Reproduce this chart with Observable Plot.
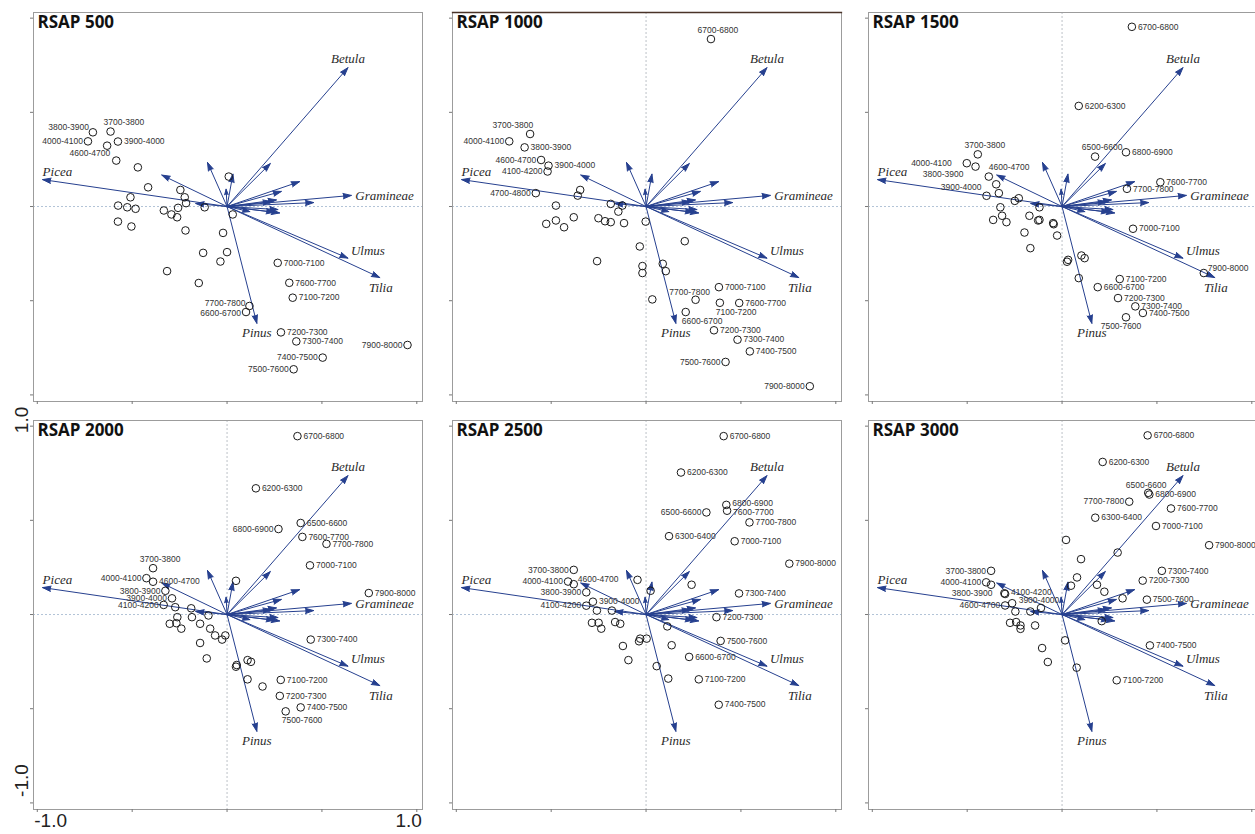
<!DOCTYPE html>
<html>
<head>
<meta charset="utf-8">
<script src="https://cdn.jsdelivr.net/npm/d3@7"></script>
<script src="https://cdn.jsdelivr.net/npm/@observablehq/plot@0.6"></script>
<style>
  html, body { margin: 0; padding: 0; background: #fff; overflow: hidden; }
  #chart { position: relative; width: 1255px; height: 834px; overflow: hidden; background: #fff; }
</style>
</head>
<body>
<div id="chart"></div>
<script>
// ---- Panel titles ----
const titles = ["RSAP 500", "RSAP 1000", "RSAP 1500", "RSAP 2000", "RSAP 2500", "RSAP 3000"];

// ---- Taxon vectors (same in every panel) ----
const species  = ["Betula", "Picea", "Gramineae", "Ulmus", "Tilia", "Pinus"];
const speciesX = [0.637, -0.972, 0.655, 0.637, 0.805, 0.157];
const speciesY = [0.737, 0.143, 0.059, -0.274, -0.377, -0.620];
const minorX = [-0.344, -0.103, -0.165, -0.005, 0.031, 0.228, 0.382, 0.286, 0.260, 0.233, 0.456, 0.268, 0.277, 0.250, 0.120];
const minorY = [0.167, 0.234, 0.016, 0.092, 0.172, 0.228, 0.132, 0.080, 0.035, 0.026, 0.021, -0.016, -0.034, -0.030, -0.027];

// ---- Sample scores: RSAP 500 ----
const s500Names = ["3800-3900", "3700-3800", "4000-4100", "3900-4000", "4600-4700", "7000-7100", "7600-7700", "7100-7200", "7700-7800", "6600-6700", "7200-7300", "7300-7400", "7900-8000", "7400-7500", "7500-7600"];
const s500X = [-0.707, -0.614, -0.733, -0.575, -0.632, 0.267, 0.328, 0.346, 0.118, 0.100, 0.284, 0.365, 0.951, 0.504, 0.351];
const s500Y = [0.394, 0.398, 0.346, 0.345, 0.323, -0.299, -0.405, -0.484, -0.528, -0.560, -0.668, -0.716, -0.735, -0.802, -0.864];
const s500Other = [[-0.584,0.244],[-0.47,0.208],[-0.416,0.102],[-0.509,0.049],[-0.574,0.005],[-0.526,-0.004],[-0.482,-0.012],[-0.575,-0.08],[-0.504,-0.106],[-0.246,0.088],[-0.223,0.049],[-0.216,0.018],[-0.258,-0.007],[-0.333,-0.021],[-0.293,-0.042],[-0.263,-0.057],[-0.118,-0.004],[0.009,0.159],[0.03,-0.042],[-0.219,-0.127],[-0.021,-0.14],[-0.126,-0.246],[0,-0.242],[-0.035,-0.292],[-0.316,-0.343],[-0.149,-0.406]];

// ---- RSAP 1000 ----
const s1000Names = ["6700-6800", "3700-3800", "4000-4100", "3800-3900", "4600-4700", "3900-4000", "4100-4200", "4700-4800", "7000-7100", "7700-7800", "7600-7700", "7100-7200", "6600-6700", "7200-7300", "7300-7400", "7400-7500", "7500-7600", "7900-8000"];
const s1000X = [0.342, -0.611, -0.721, -0.640, -0.553, -0.514, -0.519, -0.581, 0.384, 0.261, 0.491, 0.389, 0.209, 0.358, 0.482, 0.547, 0.419, 0.863];
const s1000Y = [0.889, 0.385, 0.346, 0.314, 0.247, 0.217, 0.186, 0.071, -0.428, -0.495, -0.512, -0.511, -0.560, -0.657, -0.707, -0.769, -0.825, -0.954];
const s1000Other = [[-0.347,0.088],[-0.36,0.058],[-0.475,0.005],[-0.186,0.014],[-0.125,0.005],[-0.146,-0.027],[-0.526,-0.092],[-0.475,-0.074],[-0.432,-0.11],[-0.381,-0.057],[-0.251,-0.062],[-0.216,-0.078],[-0.186,-0.083],[-0.116,-0.088],[-0.002,-0.08],[0.204,-0.184],[-0.033,-0.212],[-0.258,-0.29],[-0.019,-0.316],[-0.019,-0.353],[0.088,-0.304],[0.104,-0.343],[0.033,-0.493]];

// ---- RSAP 1500 ----
const s1500Names = ["6700-6800", "6200-6300", "3700-3800", "6500-6600", "6800-6900", "4000-4100", "3800-3900", "4600-4700", "3900-4000", "7600-7700", "7700-7800", "7000-7100", "7900-8000", "7100-7200", "6600-6700", "7200-7300", "7300-7400", "7400-7500", "7500-7600"];
const s1500X = [0.368, 0.088, -0.444, 0.174, 0.337, -0.502, -0.456, -0.386, -0.398, 0.518, 0.342, 0.374, 0.747, 0.304, 0.188, 0.295, 0.386, 0.426, 0.337];
const s1500Y = [0.954, 0.534, 0.277, 0.265, 0.288, 0.230, 0.212, 0.159, 0.057, 0.129, 0.094, -0.118, -0.353, -0.385, -0.428, -0.486, -0.530, -0.565, -0.588];
const s1500Other = [[-0.347,0.118],[-0.333,0.071],[-0.228,0.044],[-0.249,0.03],[-0.325,-0.004],[-0.119,-0.004],[-0.363,-0.071],[-0.316,-0.049],[-0.293,-0.083],[-0.172,-0.049],[-0.119,-0.071],[-0.126,-0.074],[-0.047,-0.088],[-0.044,-0.094],[-0.198,-0.138],[-0.026,-0.154],[-0.167,-0.221],[0.032,-0.283],[0.026,-0.293],[0.102,-0.26],[0.119,-0.274],[0.088,-0.38]];

// ---- RSAP 2000 ----
const s2000Names = ["6700-6800", "6200-6300", "6500-6600", "6800-6900", "7600-7700", "7700-7800", "7000-7100", "3700-3800", "4000-4100", "4600-4700", "3800-3900", "3900-4000", "4100-4200", "7900-8000", "7300-7400", "7100-7200", "7200-7300", "7400-7500", "7500-7600"];
const s2000X = [0.371, 0.152, 0.388, 0.271, 0.397, 0.524, 0.437, -0.390, -0.425, -0.390, -0.325, -0.290, -0.334, 0.747, 0.441, 0.283, 0.278, 0.388, 0.309];
const s2000Y = [0.947, 0.670, 0.486, 0.454, 0.412, 0.375, 0.261, 0.246, 0.193, 0.174, 0.126, 0.086, 0.051, 0.114, -0.133, -0.347, -0.432, -0.493, -0.514];
const s2000Other = [[-0.273,0.039],[-0.189,0.033],[-0.098,-0.005],[-0.262,-0.014],[-0.185,-0.014],[-0.267,-0.046],[-0.302,-0.049],[-0.241,-0.075],[-0.142,-0.049],[-0.089,-0.075],[-0.063,-0.111],[-0.026,-0.133],[-0.009,-0.111],[-0.142,-0.151],[-0.107,-0.233],[0.047,0.179],[0.051,-0.268],[0.047,-0.277],[0.108,-0.242],[0.126,-0.251],[0.108,-0.344],[0.187,-0.382]];

// ---- RSAP 2500 ----
const s2500Names = ["6700-6800", "6200-6300", "6800-6900", "7600-7700", "6500-6600", "7700-7800", "6300-6400", "7000-7100", "7900-8000", "3700-3800", "4000-4100", "4600-4700", "3800-3900", "3900-4000", "4100-4200", "7300-7400", "7200-7300", "7500-7600", "6600-6700", "7100-7200", "7400-7500"];
const s2500X = [0.409, 0.184, 0.423, 0.427, 0.318, 0.545, 0.121, 0.467, 0.755, -0.381, -0.411, -0.381, -0.315, -0.280, -0.315, 0.490, 0.371, 0.393, 0.227, 0.278, 0.383];
const s2500Y = [0.947, 0.754, 0.582, 0.551, 0.542, 0.489, 0.416, 0.389, 0.270, 0.237, 0.175, 0.161, 0.118, 0.068, 0.047, 0.112, -0.014, -0.140, -0.225, -0.344, -0.479];
const s2500Other = [[-0.045,0.184],[0.24,0.158],[0.024,0.126],[-0.259,0.021],[-0.18,0.021],[-0.285,-0.044],[-0.25,-0.044],[-0.236,-0.075],[-0.163,-0.04],[-0.136,-0.049],[0.112,-0.063],[-0.031,-0.128],[-0.037,-0.142],[0.003,-0.128],[-0.122,-0.167],[0.135,-0.163],[-0.093,-0.242],[0.056,-0.274],[0.117,-0.34]];

// ---- RSAP 3000 ----
const s3000Names = ["6700-6800", "6200-6300", "6500-6600", "6800-6900", "7700-7800", "7600-7700", "6300-6400", "7000-7100", "7900-8000", "3700-3800", "4000-4100", "3800-3900", "4100-4200", "3900-4000", "4600-4700", "7300-7400", "7200-7300", "7500-7600", "7400-7500", "7100-7200"];
const s3000X = [0.451, 0.214, 0.454, 0.460, 0.354, 0.574, 0.175, 0.495, 0.775, -0.374, -0.400, -0.304, -0.300, -0.111, -0.300, 0.526, 0.425, 0.447, 0.463, 0.288];
const s3000Y = [0.951, 0.810, 0.646, 0.637, 0.599, 0.563, 0.514, 0.470, 0.368, 0.232, 0.171, 0.113, 0.109, 0.035, 0.048, 0.232, 0.180, 0.079, -0.164, -0.349];
const s3000Other = [[0.021,0.396],[0.1,0.294],[0.293,0.329],[0.079,0.197],[0.047,0.153],[0.184,0.158],[0.223,0.121],[0.319,0.086],[-0.374,0.158],[-0.263,0.06],[-0.246,0.016],[-0.167,0.016],[-0.274,-0.044],[-0.242,-0.04],[-0.219,-0.058],[-0.219,-0.076],[-0.142,-0.058],[0.209,-0.035],[0.016,-0.137],[-0.105,-0.178],[-0.075,-0.252],[0.077,-0.282]];

// ---- Axis tick values ----
const tickValues = [-1, -0.5, 0, 0.5, 1];
const tickLabelValues = [-1, 1];

// ---- Layout: where each sample label sits relative to its circle ----
const labelPlacement = {
  r:    ["start", 6, 0],
  rup:  ["start", 6, -2],
  rdn:  ["start", 6, 1.5],
  l:    ["end", -5, 0],
  lup:  ["end", -4, -2.5],
  ldn:  ["end", -5, 1],
  l12:  ["end", -12, 0],
  l15:  ["end", -15, 0],
  lu:   ["end", -4, -5],
  lb:   ["end", 3, 8],
  lb2:  ["end", -12, 8],
  tl:   ["end", 3, -9],
  lt:   ["end", -5, -9],
  ts:   ["start", -7, -9],
  ts2:  ["start", 0, -9],
  tm:   ["middle", -2, -8],
  tmp:  ["middle", 7, -9],
  tmm:  ["middle", -6, -8],
  bs:   ["start", -4, 9],
  bm:   ["middle", -5, 9],
  ru:   ["start", 4, -5]
};
const s500Sides  = ["lu","ts","l","r","lb","r","r","r","lup","ldn","r","r","l","l","l"];
const s1000Sides = ["tmp","tl","l","r","l","r","l","l","r","tmm","r","bs","bs","r","r","r","l","l"];
const s1500Sides = ["r","r","tmp","tmp","r","l15","lb2","ts2","lt","r","r","r","ru","r","r","r","r","r","bm"];
const s2000Sides = ["r","r","r","l","r","r","r","tmp","l","r","l","l","l","r","r","r","r","r","bs"];
const s2500Sides = ["r","r","rup","rdn","l","r","r","r","r","l","l","ru","l","r","l","r","r","r","r","r","r"];
const s3000Sides = ["r","r","tm","r","l","r","r","r","r","l","l","l12","rup","tm","l","r","r","r","r","r"];

// Taxon label placement: [textAnchor, dx, dy]
const speciesPlacement = {
  Betula:    ["middle", 0, -9],
  Picea:     ["start", 0, -8],
  Gramineae: ["start", 4, 0],
  Ulmus:     ["start", 3, -7],
  Tilia:     ["middle", 1, 10],
  Pinus:     ["middle", 0, 10]
};

const FRAME = 389;
const M = {top: 4, right: 4, bottom: 30, left: 40};
const colLeft = [33.3, 452, 868];
const rowTop = [12, 419.6];
const ARROW = "#26408f";
const SANS = "'Liberation Sans', Arial, sans-serif";
const SERIF = "'Liberation Serif', 'Times New Roman', serif";

const panels = [
  {title: titles[0], names: s500Names,  x: s500X,  y: s500Y,  other: s500Other,  sides: s500Sides,  col: 0, row: 0, vline: false},
  {title: titles[1], names: s1000Names, x: s1000X, y: s1000Y, other: s1000Other, sides: s1000Sides, col: 1, row: 0, vline: true, darkTop: true},
  {title: titles[2], names: s1500Names, x: s1500X, y: s1500Y, other: s1500Other, sides: s1500Sides, col: 2, row: 0, vline: true},
  {title: titles[3], names: s2000Names, x: s2000X, y: s2000Y, other: s2000Other, sides: s2000Sides, col: 0, row: 1, vline: true, tickLabels: true},
  {title: titles[4], names: s2500Names, x: s2500X, y: s2500Y, other: s2500Other, sides: s2500Sides, col: 1, row: 1, vline: true},
  {title: titles[5], names: s3000Names, x: s3000X, y: s3000Y, other: s3000Other, sides: s3000Sides, col: 2, row: 1, vline: true}
];

const vectors = species.map((name, i) => ({name, x: speciesX[i], y: speciesY[i]}))
  .concat(minorX.map((x, i) => ({name: "", x, y: minorY[i]})));

function panel(p) {
  const labeled = p.names.map((name, i) => ({name, x: p.x[i], y: p.y[i], side: p.sides[i]}));
  const others = p.other.map(([x, y]) => ({x, y}));
  const sides = Array.from(new Set(labeled.map(d => d.side)));

  const marks = [
    Plot.ruleY([0], {stroke: "#9db4cc", strokeDasharray: "2,2", strokeWidth: 0.8}),
    p.vline ? Plot.ruleX([0], {stroke: "#aab0b8", strokeDasharray: "2,2", strokeWidth: 0.8}) : null,
    Plot.frame({stroke: "#9c9c9c"}),
    p.darkTop ? Plot.frame({anchor: "top", stroke: "#4a3328", strokeWidth: 1.3}) : null,
    Plot.axisX(tickValues, {tickSize: 3, tickFormat: () => "", stroke: "#777", label: null}),
    Plot.axisY(tickValues, {tickSize: 3, tickFormat: () => "", stroke: "#777", label: null}),
    Plot.arrow(vectors, {x1: 0, y1: 0, x2: "x", y2: "y", stroke: ARROW, fill: ARROW, strokeWidth: 1, headLength: 13, headAngle: 36}),
    Plot.dot(labeled.concat(others), {x: "x", y: "y", r: 3.8, stroke: "#1a1a1a", strokeWidth: 1, fill: "none"}),
    ...sides.map(s => {
      const [anchor, dx, dy] = labelPlacement[s];
      return Plot.text(labeled.filter(d => d.side === s), {
        x: "x", y: "y", text: "name", textAnchor: anchor, dx, dy,
        fontSize: 8.5, fontFamily: SANS, fill: "#333"
      });
    }),
    ...vectors.filter(d => d.name).map(d => {
      const [anchor, dx, dy] = speciesPlacement[d.name];
      return Plot.text([d], {
        x: "x", y: "y", text: "name", textAnchor: anchor, dx, dy,
        fontSize: 13, fontFamily: SERIF, fontStyle: "italic", fill: "#2a2a2a"
      });
    }),
    Plot.text([p.title], {
      frameAnchor: "top-left", text: d => d, dx: 4, dy: 3, lineAnchor: "top",
      fontSize: 17, fontWeight: 700, fontFamily: "'Open Sans', sans-serif", fill: "#111"
    })
  ];

  if (p.tickLabels) {
    const fmt = d => d.toFixed(1);
    const tl = {fontSize: 19, fontFamily: "'Liberation Sans Narrow', 'Liberation Sans', Arial, sans-serif", fill: "#222", text: fmt};
    marks.push(
      Plot.text(tickLabelValues.filter(d => d < 0), {...tl, x: d => d, frameAnchor: "bottom", textAnchor: "start", dx: -3, dy: 17}),
      Plot.text(tickLabelValues.filter(d => d > 0), {...tl, x: d => d, frameAnchor: "bottom", textAnchor: "end", dx: 5, dy: 17}),
      Plot.text(tickLabelValues.filter(d => d > 0), {...tl, y: d => d, frameAnchor: "left", rotate: -90, dx: -12, dy: 7}),
      Plot.text(tickLabelValues.filter(d => d < 0), {...tl, y: d => d, frameAnchor: "left", rotate: -90, dx: -12, dy: -6})
    );
  }

  const svg = Plot.plot({
    width: FRAME + M.left + M.right,
    height: FRAME + M.top + M.bottom,
    marginTop: M.top, marginRight: M.right, marginBottom: M.bottom, marginLeft: M.left,
    x: {domain: [-1.02, 1.03], label: null},
    y: {domain: [-1.035, 1.03], label: null},
    style: {
      position: "absolute",
      left: (colLeft[p.col] - M.left) + "px",
      top: (rowTop[p.row] - M.top) + "px",
      background: "transparent",
      overflow: "visible",
      maxWidth: "none"
    },
    marks: marks.filter(Boolean)
  });
  return svg;
}

const chart = document.getElementById("chart");
panels.forEach(p => chart.appendChild(panel(p)));
</script>
</body>
</html>
